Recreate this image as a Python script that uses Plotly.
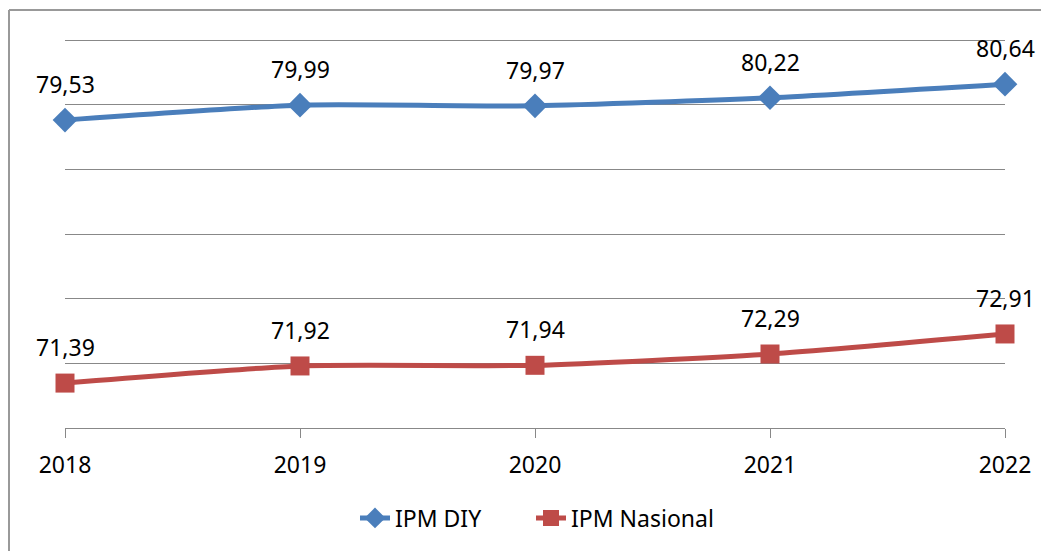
import plotly.graph_objects as go

years = ["2018", "2019", "2020", "2021", "2022"]
ipm_diy = [79.53, 79.99, 79.97, 80.22, 80.64]
ipm_nasional = [71.39, 71.92, 71.94, 72.29, 72.91]
series_names = ["IPM DIY", "IPM Nasional"]

def fmt(v):
    return f"{v:.2f}".replace(".", ",")

FONT = "Noto Sans"
PLOT_H = 391
fig = go.Figure()
fig.add_trace(go.Scatter(
    x=years, y=ipm_diy, name=series_names[0], mode="lines+markers",
    line=dict(color="#4a7ebb", width=5, shape="spline", smoothing=0.6),
    marker=dict(symbol="diamond", size=19, color="#4a7ebb"),
    cliponaxis=False, legend="legend",
))
fig.add_trace(go.Scatter(
    x=years, y=ipm_nasional, name=series_names[1], mode="lines+markers",
    line=dict(color="#be4b48", width=5, shape="spline", smoothing=0.6),
    marker=dict(symbol="square", size=19, color="#be4b48"),
    cliponaxis=False, legend="legend2",
))

for ys in (ipm_diy, ipm_nasional):
    for i, yv in enumerate(ys):
        fig.add_annotation(x=i, y=yv, text=fmt(yv), showarrow=False,
                           yshift=36,
                           font=dict(family=FONT, size=23, color="#000000"))

# outer frame (top and left edges visible)
fig.add_shape(type="line", xref="paper", yref="paper",
              x0=-56/940, x1=1.2, y0=418/PLOT_H, y1=418/PLOT_H,
              line=dict(color="#999999", width=2))
fig.add_shape(type="line", xref="paper", yref="paper",
              x0=-56/940, x1=-56/940, y0=418/PLOT_H, y1=-0.5,
              line=dict(color="#999999", width=2))

leg_common = dict(orientation="h", y=-90/PLOT_H, yanchor="middle", xanchor="left",
                  font=dict(family=FONT, size=23), bgcolor="rgba(0,0,0,0)")
fig.update_layout(
    width=1041, height=543,
    margin=dict(l=57, r=44, t=29, b=123, autoexpand=False),
    paper_bgcolor="white", plot_bgcolor="white",
    font=dict(family=FONT, size=23, color="#000000"),
    showlegend=True,
    legend=dict(x=(360 - 5 - 65) / 940, **leg_common),
    legend2=dict(x=(536 - 5 - 65) / 940, **leg_common),
    xaxis=dict(type="category", range=[0, 4], showgrid=False,
               showline=True, linecolor="#888888", linewidth=1,
               ticks="outside", ticklen=9, tickcolor="#888888",
               ticklabelstandoff=7, automargin=False,
               tickfont=dict(family=FONT, size=23), zeroline=False),
    yaxis=dict(range=[70, 82.1], dtick=2, tick0=70, showgrid=True, gridcolor="#888888",
               gridwidth=1, showticklabels=False, zeroline=False, showline=False,
               automargin=False),
)

fig.write_html("out.html")
